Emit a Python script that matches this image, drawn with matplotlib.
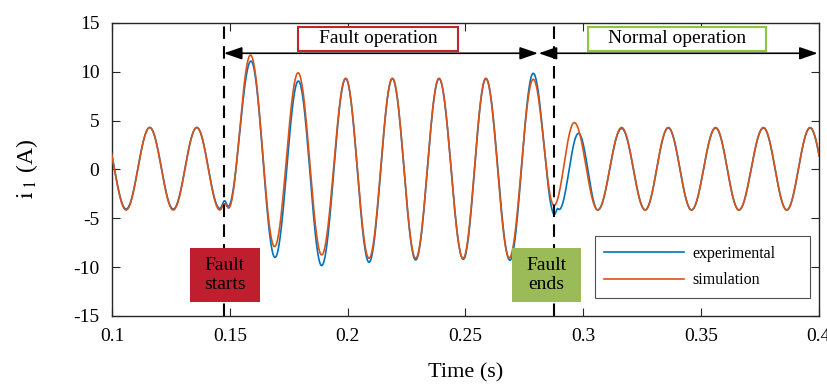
import numpy as np
import matplotlib
matplotlib.use("Agg")
import matplotlib.pyplot as plt
from matplotlib.patches import Rectangle

plt.rcParams['font.family'] = ['Liberation Serif', 'DejaVu Serif']
plt.rcParams['mathtext.fontset'] = 'stix'
plt.rcParams['axes.unicode_minus'] = False

# ---- data: extrema (time, value) of each waveform ----
exp_t = [0.096, 0.106, 0.116, 0.126, 0.136, 0.1458, 0.1478, 0.1493, 0.1590,
         0.1692, 0.1791, 0.1890, 0.1992, 0.2091, 0.2190, 0.2289, 0.2388,
         0.2491, 0.2587, 0.2689, 0.2788, 0.2878, 0.2892, 0.2898, 0.2980,
         0.3062, 0.3163, 0.3263, 0.3361, 0.3460, 0.3562, 0.3661, 0.3765,
         0.3864, 0.3963, 0.4060]
exp_v = [4.3, -4.05, 4.3, -4.05, 4.3, -4.0, -3.2, -3.8, 11.1,
         -9.0, 9.06, -9.84, 9.3, -9.5, 9.3, -9.26, 9.3,
         -9.2, 9.3, -9.3, 9.85, -4.6, -4.0, -4.1, 3.7,
         -4.14, 4.2, -4.14, 4.25, -4.14, 4.25, -4.14, 4.25,
         -4.14, 4.25, -4.1]

sim_t = [0.096, 0.106, 0.116, 0.126, 0.136, 0.1458, 0.1478, 0.1495, 0.1588,
         0.1690, 0.1790, 0.1890, 0.1992, 0.2091, 0.2190, 0.2289, 0.2388,
         0.2490, 0.2587, 0.2686, 0.2788, 0.2876, 0.2962,
         0.3062, 0.3163, 0.3263, 0.3361, 0.3460, 0.3562, 0.3661, 0.3765,
         0.3864, 0.3963, 0.4060]
sim_v = [4.3, -4.15, 4.3, -4.15, 4.3, -4.15, -3.5, -3.95, 11.72,
         -7.9, 9.9, -8.75, 9.34, -9.1, 9.34, -9.1, 9.34,
         -9.1, 9.34, -9.05, 9.24, -3.7, 4.8,
         -4.15, 4.3, -4.15, 4.3, -4.15, 4.3, -4.15, 4.3,
         -4.15, 4.3, -4.1]

series_names = ['experimental', 'simulation']
series_colors = ['#0072BD', '#D95319']

fault_start = 0.1475
fault_end = 0.2875
arrow_meet = 0.2808

xticks = [0.1, 0.15, 0.2, 0.25, 0.3, 0.35, 0.4]
xticklabels = ['0.1', '0.15', '0.2', '0.25', '0.3', '0.35', '0.4']
yticks = [-15, -10, -5, 0, 5, 10, 15]


def wave(tk, vk, n=40):
    ts, vs = [], []
    for i in range(len(tk) - 1):
        s = np.linspace(0, 1, n, endpoint=False)
        ts.append(tk[i] + (tk[i + 1] - tk[i]) * s)
        vs.append(vk[i] + (vk[i + 1] - vk[i]) * (1 - np.cos(np.pi * s)) / 2)
    ts.append([tk[-1]]); vs.append([vk[-1]])
    return np.concatenate(ts), np.concatenate(vs)


fig = plt.figure(figsize=(8.27, 3.87), dpi=100)
ax = fig.add_axes([0.1354, 0.1835, 0.8547, 0.7571])

for (tk, vk), name, col in zip([(exp_t, exp_v), (sim_t, sim_v)], series_names, series_colors):
    t, v = wave(tk, vk)
    ax.plot(t, v, color=col, lw=1.2, label=name, zorder=3)

ax.set_xlim(0.1, 0.4)
ax.set_ylim(-15, 15)
ax.set_xticks(xticks)
ax.set_xticklabels(xticklabels)
ax.set_yticks(yticks)
ax.tick_params(direction='in', length=6, width=0.8, top=True, right=True,
               labelsize=14, pad=9, colors='#262626', labelcolor='black')
for sp in ax.spines.values():
    sp.set_linewidth(1.0)
    sp.set_color('#262626')

ax.set_xlabel('Time (s)', fontsize=16, labelpad=13)
ax.set_ylabel(r'$\mathrm{i}_{\ 1}$ (A)', fontsize=17, labelpad=24)

# dashed vertical lines
for xv in (fault_start, fault_end):
    ax.axvline(xv, color='black', lw=1.5, ls=(0, (6, 3.5)), zorder=4)

# double arrows
ay = 11.9
ax.annotate('', xy=(arrow_meet, ay), xytext=(fault_start, ay),
            arrowprops=dict(arrowstyle='<|-|>,head_length=1.1,head_width=0.38',
                            color='black', lw=1.2, shrinkA=0, shrinkB=0),
            zorder=5)
ax.annotate('', xy=(0.3995, ay), xytext=(arrow_meet + 0.0003, ay),
            arrowprops=dict(arrowstyle='<|-|>,head_length=1.1,head_width=0.38',
                            color='black', lw=1.2, shrinkA=0, shrinkB=0),
            zorder=5)

# top label boxes
ax.add_patch(Rectangle((0.1790, 12.16), 0.2469 - 0.1790, 14.62 - 12.16,
                       facecolor='white', edgecolor='#C0272D', lw=1.5, zorder=6))
ax.text((0.1790 + 0.2469) / 2, 13.4, 'Fault operation', ha='center', va='center',
        fontsize=14, zorder=7)
ax.add_patch(Rectangle((0.3019, 12.16), 0.3775 - 0.3019, 14.62 - 12.16,
                       facecolor='white', edgecolor='#8DC63F', lw=1.5, zorder=6))
ax.text((0.3019 + 0.3775) / 2, 13.4, 'Normal operation', ha='center', va='center',
        fontsize=14, zorder=7)

# bottom filled boxes
ax.add_patch(Rectangle((0.1331, -13.6), 0.1628 - 0.1331, 13.6 - 8.0,
                       facecolor='#BE1E2D', edgecolor='none', zorder=6))
ax.text((0.1331 + 0.1628) / 2, -10.8, 'Fault\nstarts', ha='center', va='center',
        fontsize=14, linespacing=1.1, zorder=7)
ax.add_patch(Rectangle((0.2699, -13.6), 0.2991 - 0.2699, 13.6 - 8.0,
                       facecolor='#9BBB59', edgecolor='none', zorder=6))
ax.text((0.2699 + 0.2991) / 2, -10.8, 'Fault\nends', ha='center', va='center',
        fontsize=14, linespacing=1.1, zorder=7)

leg = ax.legend(loc='lower left', bbox_to_anchor=(0.683, 0.0614, 0.304, 0.208),
                mode='expand', fontsize=11.5, handlelength=5.0, handletextpad=0.5,
                borderpad=0.6, labelspacing=0.65, frameon=True, fancybox=False,
                borderaxespad=0)
leg.get_frame().set_edgecolor('#262626')
leg.get_frame().set_linewidth(0.8)
leg.set_zorder(8)

fig.savefig('out.png', dpi=100)
